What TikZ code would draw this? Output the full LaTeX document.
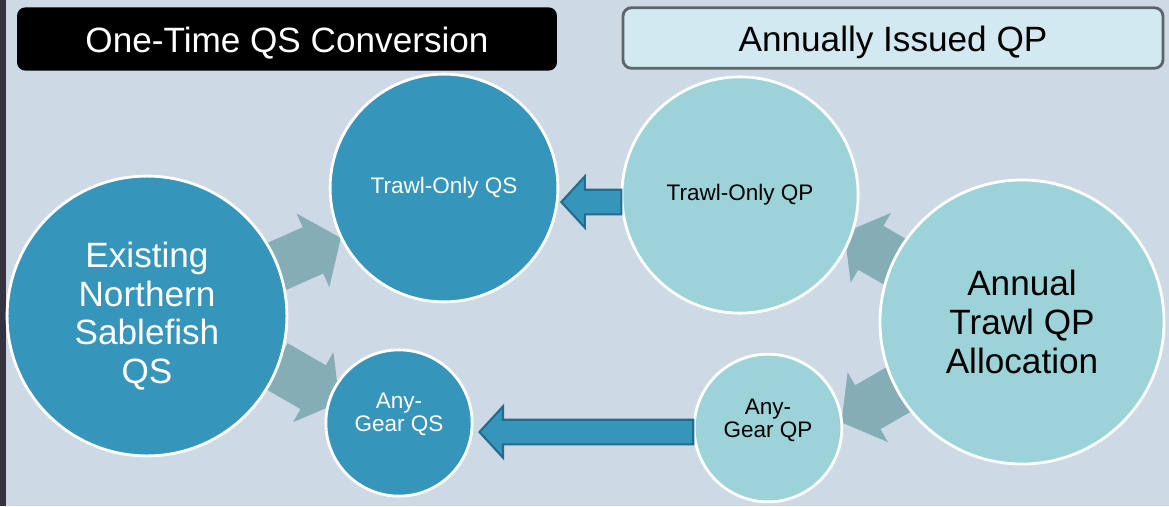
\documentclass[tikz,border=0pt]{standalone}
\usepackage{fontspec}
\setmainfont{Liberation Sans}
\usepackage{tikz}
\usetikzlibrary{shapes.arrows}

\definecolor{bgcol}{HTML}{CDD9E4}
\definecolor{stripcol}{HTML}{35333F}
\definecolor{qscol}{HTML}{3595BB}
\definecolor{qpcol}{HTML}{9CD3D9}
\definecolor{greycol}{HTML}{84ADB6}
\definecolor{bluerim}{HTML}{276B8A}
\definecolor{boxcol}{HTML}{D3E9F1}
\definecolor{boxrim}{HTML}{5B6569}

\tikzset{
  qscircle/.style={circle,fill=qscol,draw=white,line width=2pt,text=white,align=center,inner sep=0pt},
  qpcircle/.style={circle,fill=qpcol,draw=white,line width=2pt,text=black,align=center,inner sep=0pt},
  bigtext/.style={font=\fontsize{25}{27.5}\selectfont},
  smalltext/.style={font=\fontsize{16}{16.5}\selectfont},
  titlebox/.style={rounded corners=6pt,minimum width=384pt,minimum height=45pt,
    text height=24pt,text depth=5pt,font=\fontsize{25}{28}\selectfont},
  greyarrow/.style={single arrow,fill=greycol,inner xsep=0pt,inner ysep=17.8pt,
    single arrow head extend=10.7pt,single arrow tip angle=106,minimum height=53pt},
  bluearrow/.style={single arrow,fill=qscol,draw=bluerim,line width=1.5pt,inner xsep=0pt,
    inner ysep=8pt,single arrow head extend=9.5pt,single arrow tip angle=95}
}

\begin{document}
\begin{tikzpicture}[x=0.025cm,y=-0.025cm]
\fill[bgcol] (0,0) rectangle (1169,506);
\fill[stripcol] (0,0) rectangle (6,506);
\useasboundingbox (0,0) rectangle (1169,506);

% title boxes
\node (conv) [titlebox,fill=black,text=white] at (287,39) {One-Time QS Conversion};
\node (issued) [titlebox,fill=boxcol,draw=boxrim,line width=2pt,minimum height=43pt] at (893,38) {Annually Issued QP};

% grey arrows (behind the circles)
\node (g1) [greyarrow,rotate=24] at (298,257) {};
\node (g2) [greyarrow,rotate=-30] at (299,379) {};
\node (g3) [greyarrow,rotate=150] at (885,256) {};
\node (g4) [greyarrow,rotate=210] at (882,399) {};

% circles
\node (exist) [qscircle,bigtext,minimum size=199pt] at (147,316) {Existing\\Northern\\Sablefish\\QS};
\node (tqs) [qscircle,smalltext,minimum size=162pt] at (444,188) {Trawl-Only QS};
\node (aqs) [qscircle,smalltext,minimum size=104pt] at (399,423) {Any-\\Gear QS\\[-1.4pt]};
\node (tqp) [qpcircle,smalltext,minimum size=168pt] at (740,195) {Trawl-Only QP};
\node (alloc) [qpcircle,bigtext,minimum size=202pt] at (1022,322) {Annual\\Trawl QP\\Allocation};
\node (aqp) [qpcircle,smalltext,minimum size=105pt] at (768,428) {Any-\\Gear QP\\[-3pt]};

% blue arrows
\node (b1) [bluearrow,shape border rotate=180,minimum height=42.7pt] at (597,202) {};
\node (b2) [bluearrow,shape border rotate=180,minimum height=152pt] at (592,432) {};
\end{tikzpicture}
\end{document}
